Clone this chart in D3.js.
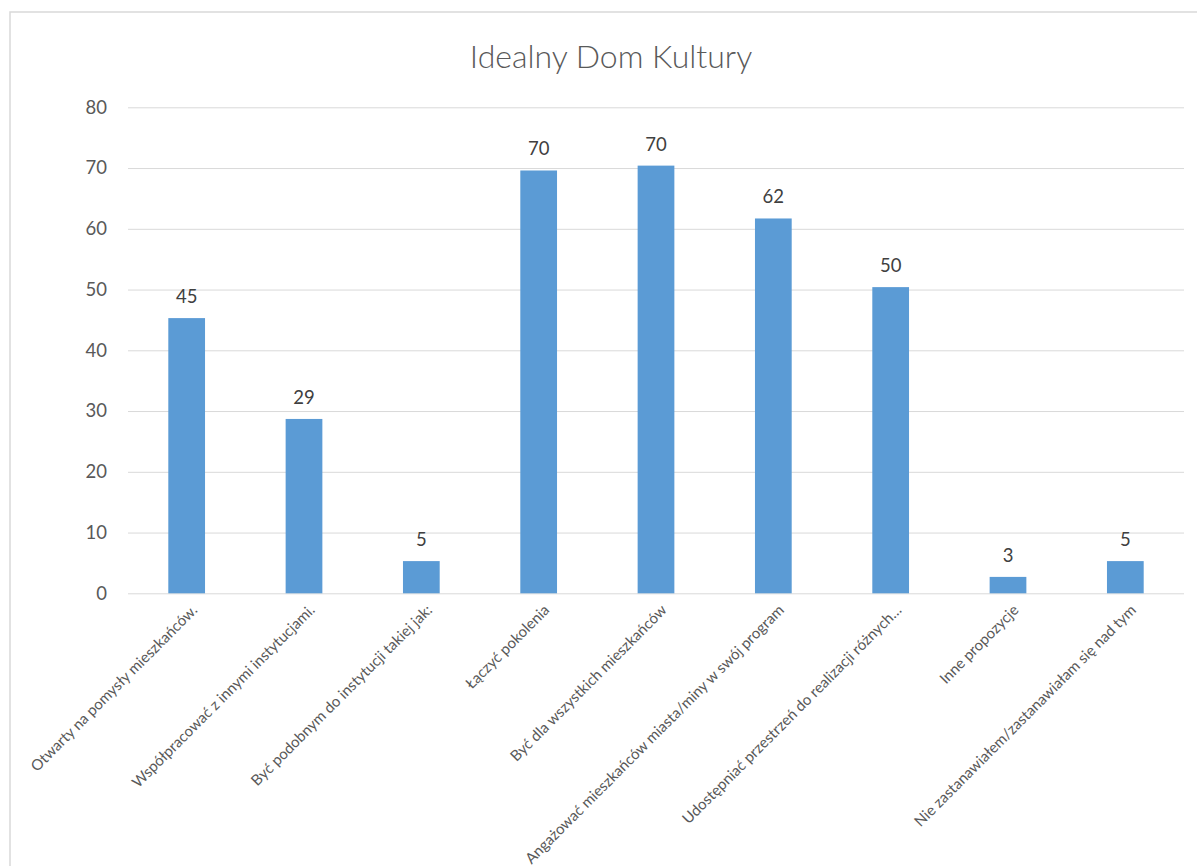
<!DOCTYPE html>
<html>
<head>
<meta charset="utf-8">
<script src="https://cdn.jsdelivr.net/npm/d3@7"></script>
<style>
  html, body { margin: 0; padding: 0; background: #fff; }
  svg { display: block; }
</style>
</head>
<body>
<svg id="chart" width="1197" height="866"></svg>
<script>
const title = "Idealny Dom Kultury";
const categories = [
  "Otwarty na pomysły mieszkańców.",
  "Współpracować z innymi instytucjami.",
  "Być podobnym do instytucji takiej jak:",
  "Łączyć pokolenia",
  "Być dla wszystkich mieszkańców",
  "Angażować mieszkańców miasta/miny w swój program",
  "Udostępniać przestrzeń do realizacji różnych…",
  "Inne propozycje",
  "Nie zastanawiałem/zastanawiałam się nad tym"
];
const values = [45.3, 28.7, 5.3, 69.6, 70.4, 61.7, 50.4, 2.7, 5.3];
const yTicks = [0, 10, 20, 30, 40, 50, 60, 70, 80];

const svg = d3.select("#chart");
const font = "Lato, 'Open Sans', 'Noto Sans', sans-serif";

// outer frame
svg.append("rect")
  .attr("x", 10).attr("y", 12)
  .attr("width", 1200).attr("height", 900)
  .attr("fill", "#fff")
  .attr("stroke", "#d9d9d9").attr("stroke-width", 1.5);

const plot = { left: 128, right: 1184, top: 107.3, bottom: 593.3 };

const x = d3.scaleBand()
  .domain(categories)
  .range([plot.left, plot.right])
  .paddingInner(0.687)
  .paddingOuter(0.3435);

const y = d3.scaleLinear().domain([0, 80]).range([plot.bottom, plot.top]);

// gridlines + y axis
const yAxis = d3.axisLeft(y)
  .tickValues(yTicks)
  .tickSize(-(plot.right - plot.left))
  .tickPadding(21)
  .tickFormat(d3.format("d"));

const gy = svg.append("g")
  .attr("transform", `translate(${plot.left},0)`)
  .call(yAxis);
gy.select(".domain").remove();
gy.selectAll(".tick line").attr("stroke", "#d9d9d9").attr("stroke-width", 1);
gy.selectAll(".tick text")
  .attr("fill", "#595959")
  .style("font-family", font)
  .style("font-size", "18.5px");

// title
svg.append("text")
  .attr("x", 611).attr("y", 68)
  .attr("text-anchor", "middle")
  .attr("fill", "#595959")
  .style("font-family", font)
  .style("font-weight", 300)
  .style("font-size", "32px")
  .text(title);

// bars
svg.append("g").selectAll("rect")
  .data(values)
  .join("rect")
  .attr("x", (d, i) => x(categories[i]))
  .attr("width", x.bandwidth())
  .attr("y", d => y(d))
  .attr("height", d => y(0) - y(d))
  .attr("fill", "#5b9bd5");

// data labels
svg.append("g").selectAll("text")
  .data(values)
  .join("text")
  .attr("x", (d, i) => x(categories[i]) + x.bandwidth() / 2)
  .attr("y", d => y(d) - 15)
  .attr("text-anchor", "middle")
  .attr("fill", "#404040")
  .style("font-family", font)
  .style("font-size", "18.5px")
  .text(d => Math.round(d));

// x category labels, rotated
svg.append("g").selectAll("text")
  .data(categories)
  .join("text")
  .attr("transform", d => `translate(${x(d) + x.bandwidth() / 2 + 8},${plot.bottom + 14}) rotate(-45)`)
  .attr("text-anchor", "end")
  .attr("dy", "0.35em")
  .attr("fill", "#595959")
  .style("font-family", font)
  .style("font-size", "15px")
  .text(d => d);
</script>
</body>
</html>
